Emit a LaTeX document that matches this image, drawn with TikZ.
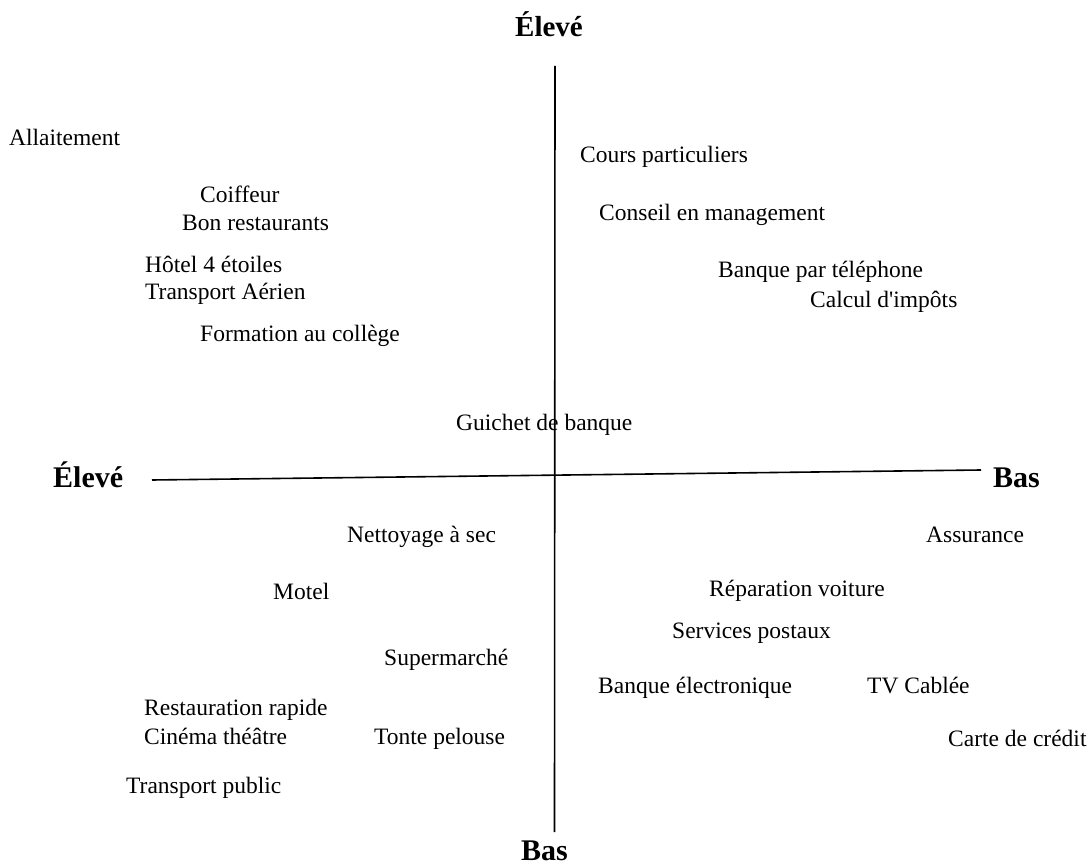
\documentclass[tikz,border=0pt]{standalone}
\usepackage{fontspec}
\setmainfont{Liberation Serif}
\begin{document}
\begin{tikzpicture}[x=1pt,y=-1pt,
  item/.style={anchor=base west, inner sep=0pt, font=\fontsize{23.5}{28}\selectfont},
  pole/.style={anchor=base west, inner sep=0pt, font=\fontsize{30}{36}\selectfont\bfseries},
  axisline/.style={line width=1.6pt, draw=black}]
\useasboundingbox (0,0) rectangle (1088,866);

% axes
\coordinate (vtop) at (555,66);
\coordinate (vbot) at (554.5,832);
\coordinate (hleft) at (152,480);
\coordinate (hright) at (981,470);
\draw[axisline] (vtop) -- (vbot);
\draw[axisline] (hleft) -- (hright);

% axis ends
\node[pole, font=\fontsize{29}{35}\selectfont\bfseries] (topHigh) at (515,37) {Élevé};
\node[pole] (leftHigh) at (53,488) {Élevé};
\node[pole] (rightLow) at (993,488) {Bas};
\node[pole, text depth=0pt] (bottomLow) at (521,860) {Bas};

% upper left
\node[item] (allait) at (9,146) {Allaitement};
\node[item] (coiff) at (200,203) {Coiffeur};
\node[item] (resto) at (182,231) {Bon restaurants};
\node[item] (hotel) at (145,273) {Hôtel 4 étoiles};
\node[item] (avion) at (145,300) {Transport Aérien};
\node[item] (college) at (200,342) {Formation au collège};

% upper right
\node[item] (cours) at (580,163) {Cours particuliers};
\node[item] (conseil) at (599,221) {Conseil en management};
\node[item] (bqtel) at (718,278) {Banque par téléphone};
\node[item] (impots) at (810,308) {Calcul d\textquotesingle impôts};

% centre
\node[item] (guichet) at (456,431) {Guichet de banque};

% lower left
\node[item] (nettoy) at (347,543) {Nettoyage à sec};
\node[item] (motel) at (273,600) {Motel};
\node[item] (superm) at (384,665) {Supermarché};
\node[item] (rapide) at (144,715) {Restauration rapide};
\node[item] (cinema) at (144,744) {Cinéma théâtre};
\node[item] (tonte) at (374,744) {Tonte pelouse};
\node[item] (public) at (126,793) {Transport public};

% lower right
\node[item] (assur) at (926,543) {Assurance};
\node[item] (repar) at (709,597) {Réparation voiture};
\node[item] (poste) at (672,638) {Services postaux};
\node[item] (bqelec) at (598,693) {Banque électronique};
\node[item] (cable) at (867,693) {TV Cablée};
\node[item] (carte) at (948,746) {Carte de crédit};
\end{tikzpicture}
\end{document}
